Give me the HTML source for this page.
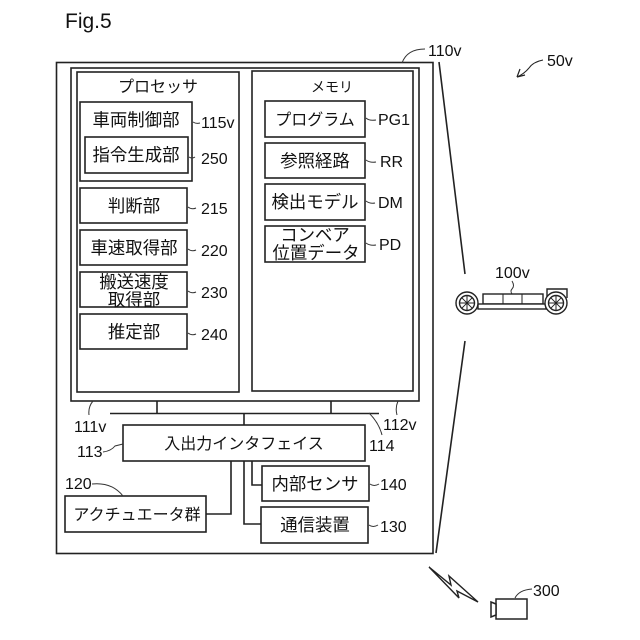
<!DOCTYPE html>
<html><head><meta charset="utf-8"><style>
html,body{margin:0;padding:0;background:#fff}
svg{display:block}
text{font-family:"Liberation Sans","Noto Sans CJK JP",sans-serif;fill:#111}
.j{font-size:16px;text-anchor:middle}
.k{font-size:17.4px;text-anchor:middle}
.l text{font-size:16px}
.b{fill:#fff;stroke:#222;stroke-width:1.6}
.t{fill:none;stroke:#333;stroke-width:1}
</style></head><body>
<svg width="640" height="640" viewBox="0 0 640 640" xmlns="http://www.w3.org/2000/svg">
<text x="65" y="28" font-size="21">Fig.5</text>
<rect class="b" x="56.5" y="62.5" width="376.5" height="491"/>
<rect class="b" x="71" y="68" width="348" height="333"/>
<rect class="b" x="77" y="72" width="162" height="320"/>
<rect class="b" x="252" y="71" width="161" height="320"/>
<text class="j" x="158" y="92">プロセッサ</text>
<text class="j" x="332" y="92" style="font-size:14px">メモリ</text>
<rect class="b" x="80" y="102" width="112" height="79"/>
<text class="k" x="136" y="126">車両制御部</text>
<rect class="b" x="85" y="137" width="103" height="36"/>
<text class="k" x="136" y="161">指令生成部</text>
<rect class="b" x="80" y="188" width="107" height="35"/>
<text class="k" x="134" y="212">判断部</text>
<rect class="b" x="80" y="230" width="107" height="35"/>
<text class="k" x="134" y="254">車速取得部</text>
<rect class="b" x="80" y="272" width="107" height="35"/>
<text class="k" x="134" y="288">搬送速度</text>
<text class="k" x="134" y="306">取得部</text>
<rect class="b" x="80" y="314" width="107" height="35"/>
<text class="k" x="134" y="338">推定部</text>
<rect class="b" x="265" y="101" width="100" height="36"/>
<text class="j" x="315" y="125">プログラム</text>
<rect class="b" x="265" y="143" width="100" height="35"/>
<text class="k" x="315" y="167">参照経路</text>
<rect class="b" x="265" y="184" width="100" height="36"/>
<text class="k" x="315" y="208">検出モデル</text>
<rect class="b" x="265" y="226" width="100" height="36"/>
<text class="k" x="315" y="241">コンベア</text>
<text class="k" x="316" y="259">位置データ</text>
<g fill="none" stroke="#222" stroke-width="1.6">
<path d="M110 413.5H379M157 401V413M331 401V413M244 413V425"/>
<path d="M231 461V514H206M244 461V524H261M252 461V485H262"/>
<path d="M439 62L465 274M465 341L436 553" />
</g>
<rect class="b" x="123" y="425" width="242" height="36"/>
<text class="j" x="244" y="449">入出力インタフェイス</text>
<rect class="b" x="262" y="466" width="107" height="35"/>
<text class="k" x="315" y="490">内部センサ</text>
<rect class="b" x="261" y="507" width="107" height="36"/>
<text class="k" x="315" y="531">通信装置</text>
<rect class="b" x="65" y="496" width="141" height="36"/>
<text class="j" x="137" y="520">アクチュエータ群</text>
<g class="l">
<text x="201" y="128">115v</text>
<text x="201" y="164">250</text>
<text x="201" y="214">215</text>
<text x="201" y="256">220</text>
<text x="201" y="298">230</text>
<text x="201" y="340">240</text>
<text x="378" y="125">PG1</text>
<text x="380" y="167">RR</text>
<text x="378" y="208">DM</text>
<text x="379" y="250">PD</text>
<text x="428" y="56">110v</text>
<text x="547" y="66">50v</text>
<text x="495" y="278">100v</text>
<text x="74" y="432">111v</text>
<text x="383" y="430">112v</text>
<text x="77" y="457">113</text>
<text x="369" y="451">114</text>
<text x="65" y="489">120</text>
<text x="380" y="490">140</text>
<text x="380" y="532">130</text>
<text x="533" y="596">300</text>
</g>
<g class="t">
<path d="M193 122q3 2 7 1M189 157q3 2 6 0M188 207q4 3 8 1M188 249q4 3 8 1M188 291q4 3 8 1M188 333q4 3 8 1"/>
<path d="M366 118q3 3 10 2M366 160q4 3 10 2M366 201q4 3 9 2M366 243q4 3 10 2"/>
<path d="M402 63q5-14 23-14"/>
<path d="M93 401q-5 6-4 14M398 401q-3 7-1 14M369 413q10 10 13 22"/>
<path d="M103 452q8-1 12-6l8-2M92 484q20-2 31 12"/>
<path d="M370 484q4 3 9 0M369 525q4 3 9 0"/>
<path d="M512 281q3 5 0 8q-2 2 0 5"/>
<path d="M515 598q4-8 17-9"/>
<path d="M543 60q-10 2-14 8q-5 6-12 9" stroke="#222"/>
<path d="M517 77l3-8M517 77l8-2" stroke="#222" stroke-width="1.2"/>
</g>
<!-- vehicle -->
<g fill="#fff" stroke="#222" stroke-width="1.4">
<rect x="483" y="294" width="60" height="10"/>
<path d="M503 294V304M522 294V304" fill="none" stroke-width="1"/>
<rect x="478" y="304" width="68" height="5"/>
<path d="M547 298V289H567V298" />
<circle cx="467" cy="303" r="11"/>
<circle cx="467" cy="303" r="7.5"/>
<circle cx="556" cy="303" r="11"/>
<circle cx="556" cy="303" r="7.5"/>
</g>
<g stroke="#222" stroke-width="1" fill="none">
<path d="M459.5 303H474.5M467 295.5V310.5M461.7 297.7L472.3 308.3M461.7 308.3L472.3 297.7"/>
<path d="M548.5 303H563.5M556 295.5V310.5M550.7 297.7L561.3 308.3M550.7 308.3L561.3 297.7"/>
</g>
<!-- lightning -->
<path d="M429 567L459 598L457 591L478 602L449 576L451 585Z" fill="#fff" stroke="#222" stroke-width="1.4" stroke-linejoin="miter"/>
<!-- camera -->
<rect x="496" y="599" width="31" height="20" fill="#fff" stroke="#222" stroke-width="1.5"/>
<path d="M496 604L491 602V617L496 615Z" fill="#fff" stroke="#222" stroke-width="1.5"/>
</svg>
</body></html>
